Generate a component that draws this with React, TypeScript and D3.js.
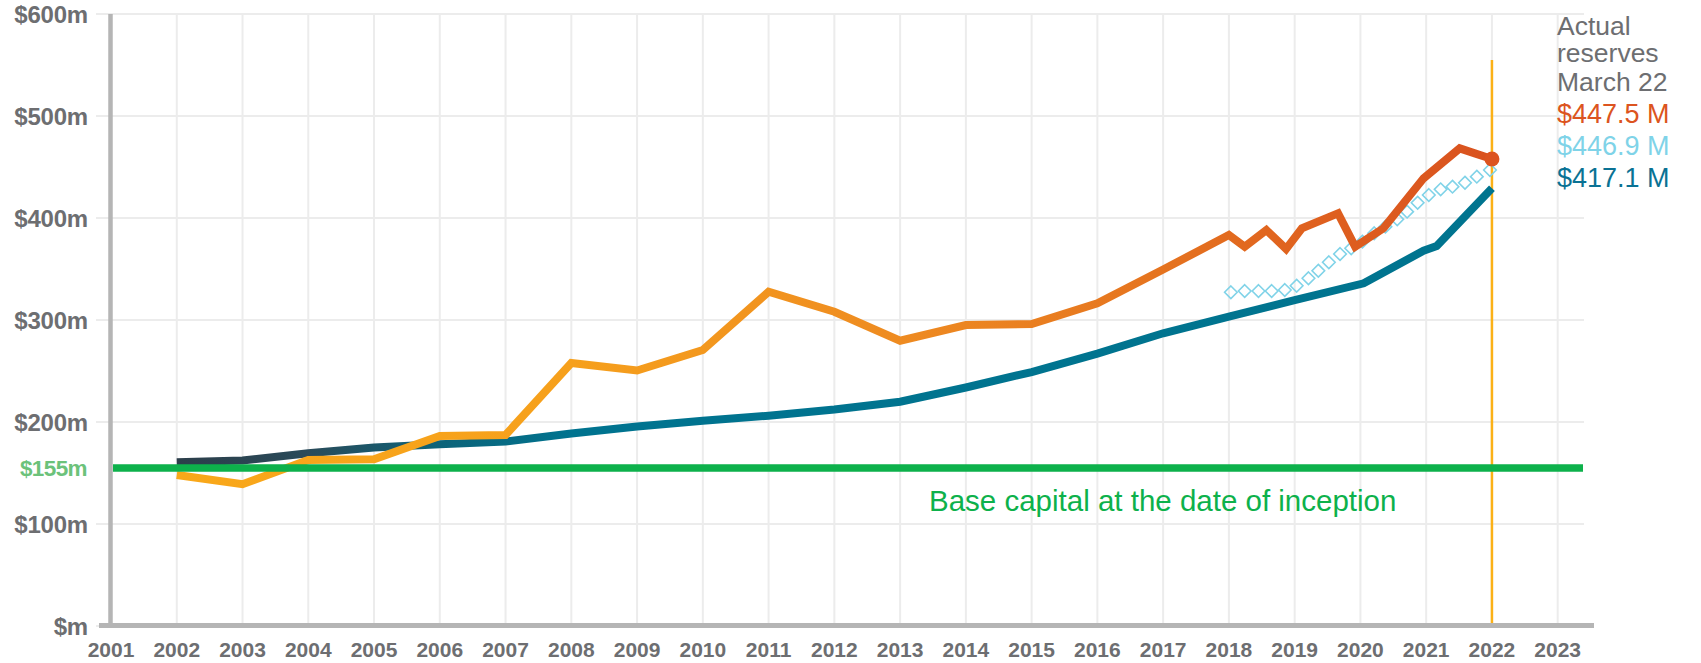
import { line, scaleLinear } from "d3";

const width = 1701;
const height = 663;

const yearTicks = [
  2001, 2002, 2003, 2004, 2005, 2006, 2007, 2008, 2009, 2010, 2011, 2012,
  2013, 2014, 2015, 2016, 2017, 2018, 2019, 2020, 2021, 2022, 2023
];
const valueTicks = [0, 100, 200, 300, 400, 500, 600];
const valueTickLabels = ["$m", "$100m", "$200m", "$300m", "$400m", "$500m", "$600m"];

// actual reserves (orange)
const actualYears = [
  2002, 2003, 2004, 2005, 2006, 2007, 2008, 2009, 2010, 2011, 2012, 2013,
  2014, 2015, 2016, 2017, 2018, 2018.24, 2018.57, 2018.87, 2019.11, 2019.66,
  2019.92, 2020.35, 2020.96, 2021.51, 2021.74, 2022
];
const actualValues = [
  148, 139, 162.7, 163.4, 186.3, 187.3, 257.8, 250.5, 270.6, 327.7, 308.1, 279.7,
  295.1, 296.1, 316.4, 349.5, 383.3, 371.9, 388.2, 369.6, 389.9, 404.6,
  371.9, 389.9, 438.9, 468.3, 463.4, 457.8
];

// required reserves (teal)
const requiredYears = [
  2002, 2003, 2004, 2005, 2006, 2007, 2008, 2009, 2010, 2011, 2012, 2013,
  2014, 2015, 2016, 2017, 2018, 2019, 2020.05, 2020.96, 2021.16, 2022
];
const requiredValues = [
  160.5, 162.3, 169.3, 175, 178.1, 180.9, 188.7, 195.6, 201.3, 206.2, 212.3, 219.9,
  233.8, 249, 267.1, 287, 303.2, 319.6, 336, 368, 372.5, 429.1
];

// projected reserves (light blue diamonds)
const projectedYears = [
  2018.03, 2018.24, 2018.45, 2018.65, 2018.85, 2019.03, 2019.21, 2019.36,
  2019.52, 2019.69, 2019.86, 2020.03, 2020.21, 2020.38, 2020.56, 2020.71,
  2020.87, 2021.04, 2021.22, 2021.4, 2021.59, 2021.77, 2021.97
];
const projectedValues = [
  327.2, 328.4, 328.4, 328.4, 329.4, 333.6, 340.9, 348.3,
  356.6, 364.7, 370.3, 376.8, 385, 391.5, 398.7, 406.2,
  415, 422.5, 428.1, 430.7, 434.6, 440.5, 447.1
];

const baseCapital = 155;
const reportYear = 2022;
const legendLines = ["Actual", "reserves", "March 22"];
const legendValues = ["$447.5 M", "$446.9 M", "$417.1 M"];

const gray = "#6d6e71";
const green = "#0db14b";
const font = "'Liberation Sans', Arial, sans-serif";

export default function App(): React.JSX.Element {
  const x = scaleLinear().domain([2001, 2023]).range([111, 1557.7]);
  const y = scaleLinear().domain([0, 600]).range([626, 14]);

  const pathLine = line<[number, number]>()
    .x(([year]) => x(year))
    .y(([, value]) => y(value));

  const actualPath =
    pathLine(actualYears.map((year, i) => [year, actualValues[i]] as [number, number])) ?? "";
  const requiredPath =
    pathLine(requiredYears.map((year, i) => [year, requiredValues[i]] as [number, number])) ?? "";

  const lastActual = actualValues[actualValues.length - 1];
  const legendY = [35, 62, 91, 123.3, 155, 186.7];
  const legendColors = ["#dc5420", "#7fd3e8", "#0a7294"];

  return (
    <svg
      width={width}
      height={height}
      viewBox={`0 0 ${width} ${height}`}
      style={{ position: "absolute", left: 0, top: 0, background: "#fff" }}
    >
      <defs>
        <linearGradient
          id="actualGrad"
          gradientUnits="userSpaceOnUse"
          x1={x(2002)}
          x2={x(2022)}
          y1={0}
          y2={0}
        >
          <stop offset="0" stopColor="#f9a81a" />
          <stop offset="0.3" stopColor="#f6a01c" />
          <stop offset="0.55" stopColor="#ee8b21" />
          <stop offset="0.75" stopColor="#e5731f" />
          <stop offset="0.86" stopColor="#df611f" />
          <stop offset="1" stopColor="#d9521f" />
        </linearGradient>
        <linearGradient
          id="requiredGrad"
          gradientUnits="userSpaceOnUse"
          x1={x(2002)}
          x2={x(2022)}
          y1={0}
          y2={0}
        >
          <stop offset="0" stopColor="#2c3e4a" />
          <stop offset="0.1" stopColor="#2a4b5a" />
          <stop offset="0.2" stopColor="#0c6379" />
          <stop offset="0.3" stopColor="#00738f" />
          <stop offset="1" stopColor="#00748f" />
        </linearGradient>
      </defs>

      {/* grid */}
      {valueTicks.map((v) => (
        <line
          key={`h${v}`}
          x1={96}
          x2={1584}
          y1={y(v)}
          y2={y(v)}
          stroke="#ececec"
          strokeWidth={2}
        />
      ))}
      {yearTicks.slice(1).map((year) => (
        <line
          key={`v${year}`}
          x1={x(year)}
          x2={x(year)}
          y1={y(600)}
          y2={y(0)}
          stroke="#ececec"
          strokeWidth={2}
        />
      ))}

      {/* report date marker */}
      <line
        x1={x(reportYear)}
        x2={x(reportYear)}
        y1={60}
        y2={y(0)}
        stroke="#fbb117"
        strokeWidth={2.5}
      />

      {/* projected diamonds */}
      {projectedYears.map((year, i) => {
        const cx = x(year);
        const cy = y(projectedValues[i]);
        const r = 6.3;
        return (
          <path
            key={`d${i}`}
            d={`M${cx},${cy - r}L${cx + r},${cy}L${cx},${cy + r}L${cx - r},${cy}Z`}
            fill="none"
            stroke="#80d3e8"
            strokeWidth={1.6}
          />
        );
      })}

      <path d={requiredPath} fill="none" stroke="url(#requiredGrad)" strokeWidth={8} />
      <path d={actualPath} fill="none" stroke="url(#actualGrad)" strokeWidth={8} />
      <circle cx={x(2022)} cy={y(lastActual)} r={7.5} fill="#dc5420" />

      {/* base capital */}
      <line
        x1={113}
        x2={1583}
        y1={y(baseCapital)}
        y2={y(baseCapital)}
        stroke={green}
        strokeWidth={7.5}
      />
      <text x={929} y={511} fill={green} fontFamily={font} fontSize={29.5}>
        Base capital at the date of inception
      </text>

      {/* axes */}
      <line x1={110.5} x2={110.5} y1={14} y2={628} stroke="#b5b5b5" strokeWidth={4.5} />
      <line x1={99} x2={1594} y1={625.5} y2={625.5} stroke="#b5b5b5" strokeWidth={5} />

      {valueTicks.map((v, i) => (
        <text
          key={`yl${v}`}
          x={88}
          y={y(v) + 8.5}
          textAnchor="end"
          fill={gray}
          fontFamily={font}
          fontWeight="bold"
          fontSize={24}
          letterSpacing={-0.2}
        >
          {valueTickLabels[i]}
        </text>
      ))}
      <text
        x={87}
        y={y(baseCapital) + 8.5}
        textAnchor="end"
        fill="#6cc27a"
        fontFamily={font}
        fontWeight="bold"
        fontSize={22.5}
        letterSpacing={-0.6}
      >
        {`$${baseCapital}m`}
      </text>

      {yearTicks.map((year) => (
        <text
          key={`xl${year}`}
          x={x(year)}
          y={656.5}
          textAnchor="middle"
          fill={gray}
          fontFamily={font}
          fontWeight="bold"
          fontSize={21}
        >
          {year}
        </text>
      ))}

      {/* legend */}
      {legendLines.map((label, i) => (
        <text key={label} x={1557} y={legendY[i]} fill={gray} fontFamily={font} fontSize={26.5}>
          {label}
        </text>
      ))}
      {legendValues.map((label, i) => (
        <text
          key={label}
          x={1557}
          y={legendY[i + 3]}
          fill={legendColors[i]}
          fontFamily={font}
          fontSize={27}
        >
          {label}
        </text>
      ))}
    </svg>
  );
}
